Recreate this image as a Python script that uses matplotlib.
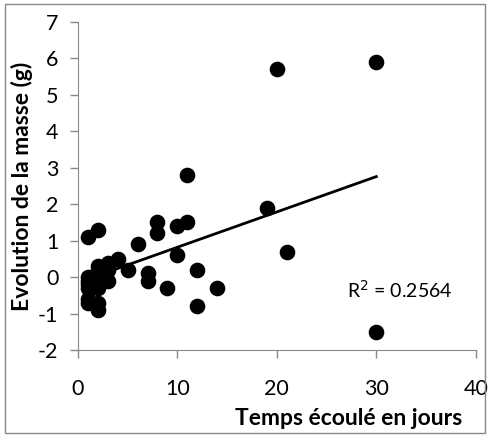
import matplotlib.pyplot as plt
import matplotlib.patches as patches
import numpy as np

# jours écoulés / évolution de la masse (g)
jours = [1, 2, 1, 1, 1, 1, 1, 1, 2, 2, 2, 2, 2, 2, 3, 3, 3, 3, 4, 5, 6, 7, 7,
         8, 8, 9, 10, 10, 11, 11, 12, 12, 14, 19, 20, 21, 30, 30]
masse = [1.1, 1.3, 0.0, -0.1, -0.2, -0.3, -0.6, -0.7, 0.3, 0.2, 0.1, -0.3, -0.7, -0.9,
         0.4, 0.3, 0.2, -0.1, 0.5, 0.2, 0.9, 0.1, -0.1,
         1.5, 1.2, -0.3, 1.4, 0.6, 1.5, 2.8, 0.2, -0.8, -0.3, 1.9, 5.7, 0.7, 5.9, -1.5]
xticks = [0, 10, 20, 30, 40]
yticks = [-2, -1, 0, 1, 2, 3, 4, 5, 6, 7]

plt.rcParams['font.family'] = ['Lato', 'DejaVu Sans']
plt.rcParams['axes.unicode_minus'] = False

fig = plt.figure(figsize=(4.9, 4.37), dpi=100)
ax = fig.add_axes([0.159, 0.199, 0.812, 0.751])

x = np.array(jours, dtype=float)
y = np.array(masse, dtype=float)
ax.scatter(x, y, s=105, color='black', zorder=3)

# droite de tendance
b, a = np.polyfit(x, y, 1)
xl = np.array([x.min(), x.max()])
ax.plot(xl, a + b * xl, color='black', lw=2, zorder=2)

ax.text(27.1, -0.36, 'R$^2$ = 0.2564', fontsize=14, va='center', ha='left')

ax.set_xlim(0, 40)
ax.set_ylim(-2, 7)
ax.set_xticks(xticks)
ax.set_yticks(yticks)
ax.tick_params(labelsize=15.5, direction='out', length=6, color='#888888', width=1)
ax.tick_params(axis='x', pad=15)
ax.tick_params(axis='y', pad=8)
ax.spines['top'].set_visible(False)
ax.spines['right'].set_visible(False)
ax.spines['left'].set_color('#888888')
ax.spines['bottom'].set_color('#888888')

ax.set_xlabel('Temps écoulé en jours', fontsize=16.5, fontweight='bold')
ax.xaxis.set_label_coords(1.0 - (476 - 462) / 398, -(418 - 350) / 328, transform=ax.transAxes)
ax.xaxis.label.set_ha('right')
ax.xaxis.label.set_va('center')
ax.set_ylabel('Evolution de la masse (g)', fontsize=16.5, fontweight='bold')
ax.yaxis.set_label_coords(-(78 - 22) / 398, 0.5, transform=ax.transAxes)
ax.yaxis.label.set_va('center')

fig.patches.append(patches.Rectangle((0.01, 0.01), 0.98, 0.98, transform=fig.transFigure,
                                     fill=False, edgecolor='#888888', lw=1))

fig.savefig('out.png', dpi=100)
